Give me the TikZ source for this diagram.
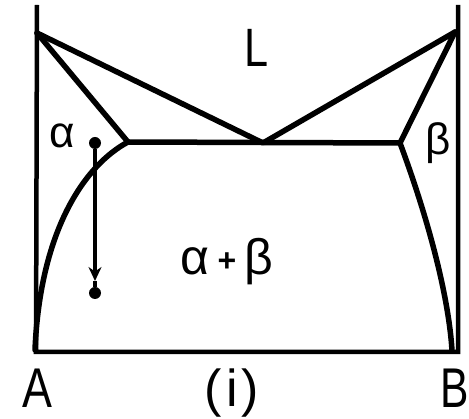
\documentclass[tikz,border=0pt]{standalone}
\usepackage{fontspec}
\setmainfont{Liberation Sans}
\usetikzlibrary{arrows.meta}
\begin{document}
\begin{tikzpicture}[x=1pt,y=-1pt,
  phase/.style={line width=5.5pt,line cap=round,line join=round},
  axis/.style={line width=4.5pt},
  lbl/.style={inner sep=0pt,anchor=base},
  dotmark/.style={circle,fill=black,inner sep=0pt,minimum size=12pt}]
\useasboundingbox (0,0) rectangle (469,419);
% key points
\coordinate (topA) at (37,5);
\coordinate (A0) at (36,352);
\coordinate (topB) at (458,5);
\coordinate (B0) at (458,352);
\coordinate (TA) at (37,33);
\coordinate (TB) at (455,32);
\coordinate (E) at (263,143);
\coordinate (SA) at (128,142);
\coordinate (SB) at (400,143);
\coordinate (VA) at (35,350);
\coordinate (VB) at (452,350);
% axes
\draw[axis] (topA) -- (A0) -- (B0) -- (topB);
% liquidus
\draw[phase] (TA) -- (E) -- (TB);
% solidus
\draw[phase] (TA) -- (SA);
\draw[phase] (TB) -- (SB);
% eutectic line
\draw[phase] (SA) -- (SB);
% solvus
\draw[phase] (SA) .. controls (85,165) and (40,230) .. (VA);
\draw[phase] (SB) .. controls (425,210) and (448,290) .. (VB);
% cooling path
\node[dotmark] (p1) at (95,143) {};
\node[dotmark] (p2) at (95,293) {};
\coordinate (pm) at (95,281);
\draw[line width=4pt,-{Stealth[length=14pt,width=13pt]}] (p1) -- (pm);
\draw[line width=4pt] (pm) -- (p2);
% labels
\node[lbl,font=\fontsize{54}{54}\selectfont] (L) at (257,67) {\scalebox{0.8}[1]{L}};
\node[lbl,font=\fontsize{44}{44}\selectfont] (la) at (62,148) {α};
\node[lbl,font=\fontsize{44}{44}\selectfont] (lb) at (438,155) {β};
\node[lbl,font=\fontsize{50}{50}\selectfont] (lab) at (227,275) {α\hspace{8pt}{\fontsize{32}{32}\selectfont\bfseries\raisebox{3pt}{+}}\hspace{8pt}β};
\node[lbl,font=\fontsize{56}{56}\selectfont] (A) at (37,408) {\scalebox{0.8}[1]{A}};
\node[lbl,font=\fontsize{56}{56}\selectfont] (B) at (455,408) {\scalebox{0.76}[1]{B}};
\node[lbl,font=\fontsize{52}{52}\selectfont] (cap) at (232,407) {(\hspace{4pt}i\hspace{4pt})};
\end{tikzpicture}
\end{document}
